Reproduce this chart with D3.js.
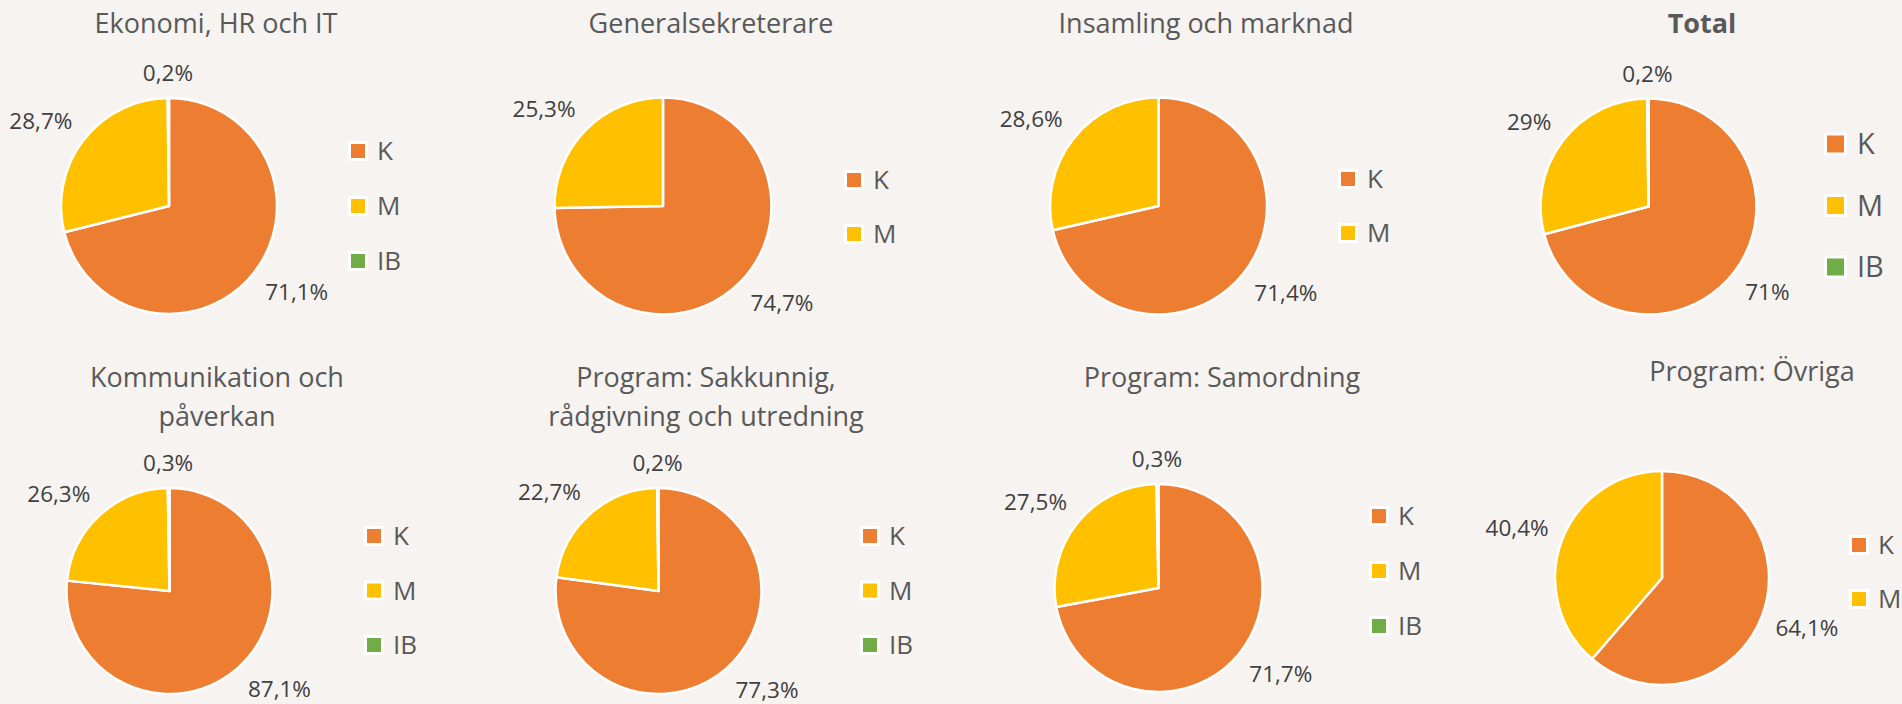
<!DOCTYPE html>
<html>
<head>
<meta charset="utf-8">
<script src="https://cdn.jsdelivr.net/npm/d3@7"></script>
<style>
  body { margin: 0; background: #f6f3f0; }
  svg { display: block; font-family: "Open Sans", sans-serif; }
</style>
</head>
<body>
<div id="charts"></div>
<script>

// data /////
const categories = ["K", "M", "IB"]
const colors = ["#ed7d31", "#ffc000", "#70ad47"]

const titles = [
    ["Ekonomi, HR och IT"],
    ["Generalsekreterare"],
    ["Insamling och marknad"],
    ["Total"],
    ["Kommunikation och", "påverkan"],
    ["Program: Sakkunnig,", "rådgivning och utredning"],
    ["Program: Samordning"],
    ["Program: Övriga"],
]

const ekonomi = [71.1, 28.7, 0.2]
const generalsekreterare = [74.7, 25.3]
const insamling = [71.4, 28.6]
const total = [71, 29, 0.2]
const kommunikation = [87.1, 26.3, 0.3]
const sakkunnig = [77.3, 22.7, 0.2]
const samordning = [71.7, 27.5, 0.3]
const ovriga = [64.1, 40.4]

const series = [ekonomi, generalsekreterare, insamling, total,
    kommunikation, sakkunnig, samordning, ovriga]

// layout of each small chart (centre, radius, title, legend)
const layout = [
    {cx: 169, cy: 206, r: 108, tx: 216, ty: 33, lx: 351, ly: 151, step: 55},
    {cx: 663, cy: 206, r: 108.5, tx: 711, ty: 33, lx: 847, ly: 180, step: 54},
    {cx: 1158.5, cy: 206, r: 108.5, tx: 1206, ty: 33, lx: 1341, ly: 179, step: 54},
    {cx: 1648.5, cy: 206.5, r: 108, tx: 1702, ty: 33, lx: 1827, ly: 144, step: 61.5, big: true},
    {cx: 169.5, cy: 591, r: 103, tx: 217, ty: 387, lx: 367, ly: 536, step: 54.5},
    {cx: 658.5, cy: 591, r: 103, tx: 706, ty: 387, lx: 863, ly: 536, step: 54.5},
    {cx: 1158.5, cy: 588, r: 104, tx: 1222, ty: 387, lx: 1372, ly: 516, step: 55},
    {cx: 1662, cy: 578, r: 107, tx: 1752, ty: 381, lx: 1852, ly: 545, step: 54},
]

const width = 1902
const height = 704

const svg = d3.select("#charts")
  .append("svg")
    .attr("width", width)
    .attr("height", height)

const pie = d3.pie()
    .sort(null)
    .value(d => d.value)

const fmt = v => String(v).replace(".", ",") + "%"
const clamp = v => Math.max(-1, Math.min(1, v))

series.forEach((values, i) => {
    const L = layout[i]
    const rows = values.map((v, j) => ({cat: categories[j], value: v, color: colors[j]}))

    const g = svg.append("g")

    // title
    const title = g.append("text")
        .attr("x", L.tx)
        .attr("y", L.ty)
        .attr("text-anchor", "middle")
        .attr("fill", "#595959")
        .style("font-size", "27px")
        .style("font-weight", i === 3 ? "bold" : "normal")
    titles[i].forEach((line, k) => {
        title.append("tspan")
            .attr("x", L.tx)
            .attr("dy", k === 0 ? 0 : 39)
            .text(line)
    })

    // slices
    const arc = d3.arc().innerRadius(0).outerRadius(L.r)
    const arcs = pie(rows)

    const pieG = g.append("g")
        .attr("transform", `translate(${L.cx},${L.cy})`)

    pieG.selectAll("path")
        .data(arcs)
        .join("path")
        .attr("d", arc)
        .attr("fill", d => d.data.color)
        .attr("stroke", "#ffffff")
        .attr("stroke-width", 2.5)
        .attr("stroke-linejoin", "round")

    // data labels: anchor just outside the slice end, box pushed away from the pie
    const halfH = 11
    const gap = 14
    pieG.selectAll("text")
        .data(arcs)
        .join("text")
        .attr("text-anchor", "middle")
        .attr("fill", "#404040")
        .style("font-size", "22.5px")
        .text(d => fmt(d.data.value))
        .each(function(d) {
            const w = this.getComputedTextLength()
            const a = (d.startAngle + d.endAngle) / 2
            const ux = Math.sin(a)
            const uy = -Math.cos(a)
            const x = ux * (L.r + gap) + w / 2 * clamp(2 * ux)
            const y = uy * (L.r + gap) + halfH * clamp(2 * uy)
            d3.select(this)
                .attr("x", x)
                .attr("y", y + 8)
        })

    // legend
    const box = L.big ? 17 : 14
    const fs = L.big ? 29 : 26
    const leg = g.selectAll(".leg")
        .data(rows)
        .join("g")
        .attr("transform", (d, j) => `translate(${L.lx},${L.ly + j * L.step})`)

    leg.append("rect")
        .attr("x", -3)
        .attr("y", -box / 2 - 3)
        .attr("width", box + 6)
        .attr("height", box + 6)
        .attr("fill", "#ffffff")
    leg.append("rect")
        .attr("x", 0)
        .attr("y", -box / 2)
        .attr("width", box)
        .attr("height", box)
        .attr("fill", d => d.color)
    leg.append("text")
        .attr("x", box + (L.big ? 13 : 12))
        .attr("y", fs * 0.36)
        .attr("fill", "#595959")
        .style("font-size", fs + "px")
        .text(d => d.cat)
})

</script>
</body>
</html>
